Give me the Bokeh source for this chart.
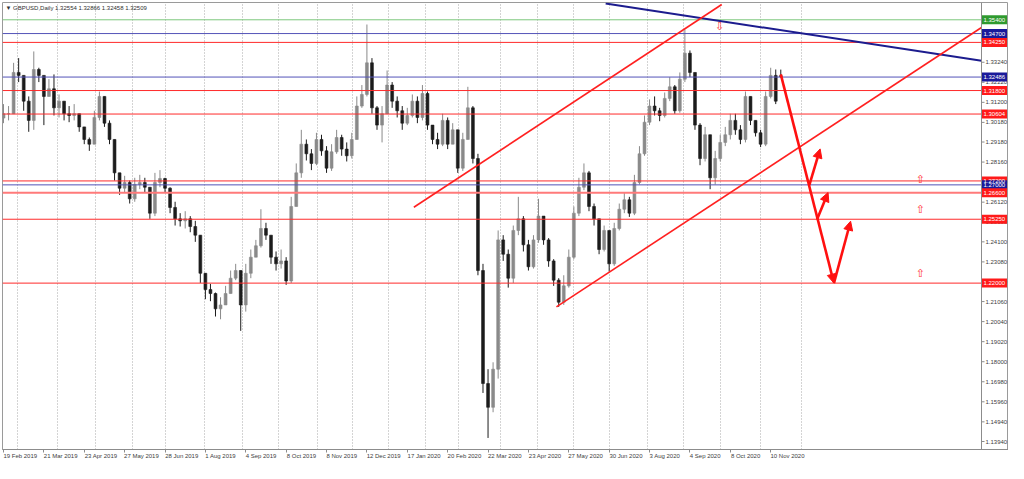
from bokeh.plotting import figure
from bokeh.models import (ColumnDataSource, FixedTicker, Span, Label, Arrow, NormalHead, Range1d)
from bokeh.core.properties import value
from bokeh.embed import file_html
from bokeh.resources import INLINE

# ---------------- data (GBPUSD daily, one candle per 3 bars) ----------------
closes = [
    1.3062, 1.3062, 1.3272, 1.3257, 1.3126, 1.3028, 1.3287, 1.3257, 1.3150, 1.3189,
    1.3092, 1.3126, 1.3062, 1.3053, 1.3062, 1.2995, 1.2931, 1.2907, 1.3043, 1.3150,
    1.3014, 1.2931, 1.2761, 1.2683, 1.2712, 1.2629, 1.2702, 1.2712, 1.2688, 1.2556,
    1.2712, 1.2732, 1.2683, 1.2585, 1.2527, 1.2517, 1.2527, 1.2488, 1.2444, 1.2250,
    1.2167, 1.2147, 1.2069, 1.2089, 1.2147, 1.2225, 1.2264, 1.2089, 1.2250, 1.2332,
    1.2390, 1.2478, 1.2444, 1.2332, 1.2298, 1.2313, 1.2211, 1.2590, 1.2761, 1.2907,
    1.2858, 1.2809, 1.2931, 1.2873, 1.2785, 1.2868, 1.2941, 1.2882, 1.2848, 1.2931,
    1.3101, 1.3160, 1.3321, 1.3092, 1.3004, 1.3062, 1.3208, 1.3126, 1.3077, 1.3014,
    1.3053, 1.3126, 1.3043, 1.3165, 1.3004, 1.2931, 1.2907, 1.3028, 1.2907, 1.2980,
    1.2785, 1.2931, 1.3092, 1.2834, 1.2264, 1.1689, 1.1568, 1.1762, 1.2420, 1.2347,
    1.2225, 1.2468, 1.2527, 1.2395, 1.2283, 1.2420, 1.2541, 1.2420, 1.2313, 1.2215,
    1.2103, 1.2186, 1.2332, 1.2556, 1.2688, 1.2761, 1.2590, 1.2527, 1.2371, 1.2468,
    1.2298, 1.2478, 1.2576, 1.2624, 1.2556, 1.2712, 1.2858, 1.3019, 1.3101, 1.3077,
    1.3053, 1.3140, 1.3199, 1.3077, 1.3238, 1.3370, 1.3272, 1.3004, 1.2834, 1.2955,
    1.2736, 1.2834, 1.2916, 1.2955, 1.3028, 1.2980, 1.2931, 1.3150, 1.3028, 1.2965,
    1.2907, 1.3150, 1.3257, 1.3126, 1.32509,
]
highs = [
    1.3111, 1.3101, 1.3321, 1.3345, 1.3199, 1.3150, 1.3379, 1.3296, 1.3223, 1.3238,
    1.3262, 1.3160, 1.3126, 1.3101, 1.3111, 1.3053, 1.2980, 1.2941, 1.3077, 1.3175,
    1.3150, 1.3028, 1.2931, 1.2736, 1.2746, 1.2722, 1.2736, 1.2751, 1.2736, 1.2688,
    1.2761, 1.2775, 1.2736, 1.2688, 1.2614, 1.2556, 1.2566, 1.2541, 1.2517, 1.2444,
    1.2225, 1.2196, 1.2152, 1.2128, 1.2186, 1.2264, 1.2298, 1.2235, 1.2298, 1.2371,
    1.2420, 1.2576, 1.2507, 1.2444, 1.2361, 1.2371, 1.2332, 1.2639, 1.2809, 1.2980,
    1.2931, 1.2882, 1.2965, 1.2955, 1.2897, 1.2907, 1.2980, 1.2955, 1.2916, 1.2965,
    1.3150, 1.3208, 1.3516, 1.3345, 1.3101, 1.3101, 1.3282, 1.3223, 1.3150, 1.3101,
    1.3092, 1.3160, 1.3150, 1.3208, 1.3175, 1.3004, 1.2965, 1.3062, 1.3043, 1.3014,
    1.2965, 1.2965, 1.3199, 1.3101, 1.2858, 1.2298, 1.1762, 1.1797, 1.2468, 1.2444,
    1.2371, 1.2493, 1.2639, 1.2541, 1.2420, 1.2444, 1.2629, 1.2541, 1.2429, 1.2322,
    1.2225, 1.2240, 1.2371, 1.2590, 1.2736, 1.2809, 1.2771, 1.2605, 1.2527, 1.2493,
    1.2468, 1.2507, 1.2605, 1.2663, 1.2639, 1.2751, 1.2897, 1.3053, 1.3135, 1.3150,
    1.3092, 1.3170, 1.3248, 1.3208, 1.3272, 1.3491, 1.3384, 1.3272, 1.3014, 1.2995,
    1.2955, 1.2873, 1.2955, 1.2995, 1.3062, 1.3062, 1.3004, 1.3175, 1.3150, 1.3028,
    1.2980, 1.3175, 1.3296, 1.3287, 1.32866,
]
lows = [
    1.3014, 1.3028, 1.3175, 1.3223, 1.3077, 1.2970, 1.2980, 1.3223, 1.3004, 1.3150,
    1.3053, 1.3043, 1.3028, 1.3019, 1.3028, 1.2970, 1.2907, 1.2873, 1.2907, 1.3028,
    1.2995, 1.2907, 1.2722, 1.2649, 1.2663, 1.2605, 1.2614, 1.2678, 1.2663, 1.2527,
    1.2541, 1.2688, 1.2663, 1.2556, 1.2493, 1.2488, 1.2478, 1.2459, 1.2410, 1.2201,
    1.2118, 1.2108, 1.2030, 1.2016, 1.2089, 1.2152, 1.2215, 1.1957, 1.2055, 1.2225,
    1.2332, 1.2381, 1.2420, 1.2298, 1.2264, 1.2274, 1.2191, 1.2201, 1.2590, 1.2736,
    1.2824, 1.2775, 1.2800, 1.2848, 1.2761, 1.2771, 1.2858, 1.2848, 1.2819, 1.2834,
    1.2931, 1.3092, 1.3150, 1.3062, 1.2980, 1.2916, 1.3077, 1.3092, 1.3043, 1.2980,
    1.3004, 1.3043, 1.3014, 1.3028, 1.2980, 1.2907, 1.2882, 1.2897, 1.2882, 1.2907,
    1.2761, 1.2771, 1.2931, 1.2809, 1.2240, 1.1641, 1.1412, 1.1543, 1.1714, 1.2313,
    1.2177, 1.2201, 1.2444, 1.2361, 1.2264, 1.2274, 1.2405, 1.2395, 1.2283, 1.2186,
    1.2079, 1.2089, 1.2177, 1.2322, 1.2541, 1.2673, 1.2566, 1.2493, 1.2347, 1.2361,
    1.2259, 1.2288, 1.2468, 1.2556, 1.2537, 1.2546, 1.2702, 1.2848, 1.3004, 1.3053,
    1.3024, 1.3043, 1.3126, 1.3062, 1.3067, 1.3223, 1.3248, 1.2980, 1.2800, 1.2819,
    1.2678, 1.2702, 1.2819, 1.2897, 1.2931, 1.2955, 1.2907, 1.2916, 1.3004, 1.2946,
    1.2892, 1.2897, 1.3140, 1.3111, 1.32458,
]
first_open = 1.3040
last_open = 1.32554
bars_per_candle = 3

date_labels = ["19 Feb 2019", "21 Mar 2019", "23 Apr 2019", "27 May 2019", "28 Jun 2019",
               "1 Aug 2019", "4 Sep 2019", "8 Oct 2019", "8 Nov 2019", "12 Dec 2019",
               "17 Jan 2020", "20 Feb 2020", "22 Mar 2020", "23 Apr 2020", "27 May 2020",
               "30 Jun 2020", "3 Aug 2020", "4 Sep 2020", "8 Oct 2020", "10 Nov 2020"]
date_bars = [0, 24, 48, 72, 96, 120, 144, 168, 192, 216,
             240, 264, 288, 312, 336, 360, 384, 408, 432, 456]
month_start_bars = [8.2, 32.2, 54.4, 76.6, 96.5, 119.3, 142.1, 163.2, 186.5, 207.6, 228.7,
                    250.9, 270.2, 295.3, 317.5, 338.6, 360.2, 382.7, 404.1, 426.3, 449.7, 474.3]

price_ticks = [1.33240, 1.32220, 1.31200, 1.30180, 1.29180, 1.28160, 1.27140, 1.26120,
               1.25100, 1.24100, 1.23080, 1.22060, 1.21060, 1.20040, 1.19020, 1.18000,
               1.16980, 1.15960, 1.14940, 1.13940]

level_prices = [1.35400, 1.34700, 1.34250, 1.32486, 1.31800, 1.30604,
                1.27200, 1.27000, 1.26600, 1.25250, 1.22000]
level_kinds = ["green", "blue", "red", "blue", "red", "red",
               "red", "blue", "red2", "red", "red"]

navy_trend_x = [357.9, 581.3]
navy_trend_y = [1.3623, 1.3331]
upper_channel_x = [243.9, 426.9]
upper_channel_y = [1.2586, 1.3618]
lower_channel_x = [328.65, 581.3]
lower_channel_y = [1.2079, 1.3501]

forecast_down = (462.0, 1.3262, 493.6, 1.2200)
forecast_up = [(479.0, 1.2700, 485.4, 1.2883),
               (483.6, 1.2525, 490.1, 1.2661),
               (493.6, 1.2200, 503.5, 1.2515)]
hollow_up_x = [545, 545, 545]
hollow_up_y = [1.2727, 1.2576, 1.2250]
hollow_down_x = [425.7]
hollow_down_y = [1.3506]

title_text = "\u25bc GBPUSD,Daily  1.32554 1.32866 1.32458 1.32509"

# ---------------- build ----------------
n = len(closes)
xs = [i * bars_per_candle for i in range(n)]
opens = [first_open] + closes[:-1]
opens[-1] = last_open
hi = [max(h, o, c) for h, o, c in zip(highs, opens, closes)]
lo = [min(l, o, c) for l, o, c in zip(lows, opens, closes)]
up_col, dn_col = "#8a8a8a", "#1c1c1c"
colors = [up_col if c >= o else dn_col for o, c in zip(opens, closes)]
src = ColumnDataSource(dict(x=xs, high=hi, low=lo,
                            top=[max(o, c) for o, c in zip(opens, closes)],
                            bottom=[min(o, c) for o, c in zip(opens, closes)],
                            color=colors))

BORDER_L = 2
FRAME_W = 1006
FRAME_H = 447
CHART_PX = 979.0          # width of the chart part, left of the price scale
X0 = -0.6                 # first bar sits just inside the left edge
X_SCALE = 581.3           # bar index at which the price scale begins
px_per_bar = CHART_PX / (X_SCALE - X0)
X1 = X0 + FRAME_W / px_per_bar
Y0, Y1 = 1.13533, 1.3628

p = figure(frame_width=FRAME_W, frame_height=FRAME_H, x_range=Range1d(X0, X1),
           y_range=Range1d(Y0, Y1),
           y_axis_location=None, output_backend="svg", toolbar_location=None,
           min_border_left=BORDER_L, min_border_top=2, min_border_right=0, min_border_bottom=0)
p.background_fill_color = "white"
p.border_fill_color = "white"
p.outline_line_color = "#9a9a9a"

FONT = "Liberation Sans"
AX = "#8c8c8c"

# time axis: labels start at their tick, like the terminal
centers = [round(b + (len(t) * 3.05 / 2.0) / px_per_bar, 2) for b, t in zip(date_bars, date_labels)]
xa = p.xaxis[0]
xa.ticker = FixedTicker(ticks=centers, minor_ticks=date_bars)
xa.major_label_overrides = {c: t for c, t in zip(centers, date_labels)}
xa.major_tick_line_color = None
xa.major_tick_out = 3
xa.minor_tick_out = 3
xa.minor_tick_in = 0
xa.minor_tick_line_color = AX
xa.major_label_standoff = 0
xa.axis_label_standoff = 0
xa.major_label_text_font_size = "6px"
xa.major_label_text_font = FONT
xa.major_label_text_color = "#404040"
xa.axis_line_color = AX

p.xgrid.ticker = FixedTicker(ticks=month_start_bars)
p.xgrid.grid_line_color = "#a8a8a8"
p.xgrid.grid_line_dash = "1 2"
p.ygrid.grid_line_color = None

# candles
p.segment(x0="x", y0="low", x1="x", y1="high", line_color="color", line_width=1, source=src)
p.vbar(x="x", width=1.7, top="top", bottom="bottom", fill_color="color", line_color="color",
       line_width=0.6, source=src)

# horizontal levels (stop at the price scale)
line_colors = {"green": "#7cc77c", "blue": "#5353b8", "red": "#ff2a2a", "red2": "#ff7a7a"}
box_colors = {"green": "#2f9a2f", "blue": "#1a1a9a", "red": "#ff1a1a", "red2": "#ff1a1a"}
p.segment(x0=[X0] * len(level_prices), x1=[X_SCALE] * len(level_prices),
          y0=level_prices, y1=level_prices,
          line_color=[line_colors[k] for k in level_kinds],
          line_width=[2 if k == "red2" else 1 for k in level_kinds])

# trend lines
p.line(navy_trend_x, navy_trend_y, line_color="#1c1c8e", line_width=2)
p.line(upper_channel_x, upper_channel_y, line_color="#ff2020", line_width=1.6)
p.line(lower_channel_x, lower_channel_y, line_color="#ff2020", line_width=1.6)

# forecast arrows
RED = "#ff1010"
x0, y0, x1, y1 = forecast_down
p.add_layout(Arrow(x_start=x0, y_start=y0, x_end=x1, y_end=y1, line_color=RED, line_width=2.6,
                   end=NormalHead(size=9, fill_color=RED, line_color=RED)))
for (a, b, c, d) in forecast_up:
    p.add_layout(Arrow(x_start=a, y_start=b, x_end=c, y_end=d, line_color=RED, line_width=2.6,
                       end=NormalHead(size=9, fill_color=RED, line_color=RED)))

p.text(x=hollow_up_x, y=hollow_up_y, text=["\u21e7"] * len(hollow_up_x), text_color="#ff3030",
       text_font=value("DejaVu Sans"), text_font_size="11px", text_align="center",
       text_baseline="middle")
p.text(x=hollow_down_x, y=hollow_down_y, text=["\u21e9"] * len(hollow_down_x), text_color="#ff3030",
       text_font=value("DejaVu Sans"), text_font_size="11px", text_align="center",
       text_baseline="middle")

# title
p.add_layout(Label(x=X0, y=Y1, x_offset=3, y_offset=-2, text=title_text, text_baseline="top",
                   text_font_size="6px", text_font=FONT, text_color="#303030"))

# ---------------- price scale (right strip) ----------------
p.add_layout(Span(location=X_SCALE, dimension="height", line_color=AX, line_width=1))
tick_len = 3.0 / px_per_bar
p.segment(x0=[X_SCALE] * len(price_ticks), x1=[X_SCALE + tick_len] * len(price_ticks),
          y0=price_ticks, y1=price_ticks, line_color=AX, line_width=1)
p.text(x=[X_SCALE + 4.0 / px_per_bar] * len(price_ticks), y=price_ticks,
       text=[f"{t:.5f}" for t in price_ticks], text_color="#404040",
       text_font=value(FONT), text_font_size="6px", text_align="left", text_baseline="middle")

box_w_px = 25.0
p.rect(x=[X_SCALE + (box_w_px / 2 + 0.5) / px_per_bar] * len(level_prices), y=level_prices,
       width=box_w_px, height=9, width_units="screen", height_units="screen",
       fill_color=[box_colors[k] for k in level_kinds], line_color=None)
p.text(x=[X_SCALE + 2.0 / px_per_bar] * len(level_prices), y=level_prices,
       text=[f"{v:.5f}" for v in level_prices], text_color="white",
       text_font=value(FONT), text_font_size="6px", text_align="left", text_baseline="middle")

open("out.html", "w").write(file_html(p, INLINE))
